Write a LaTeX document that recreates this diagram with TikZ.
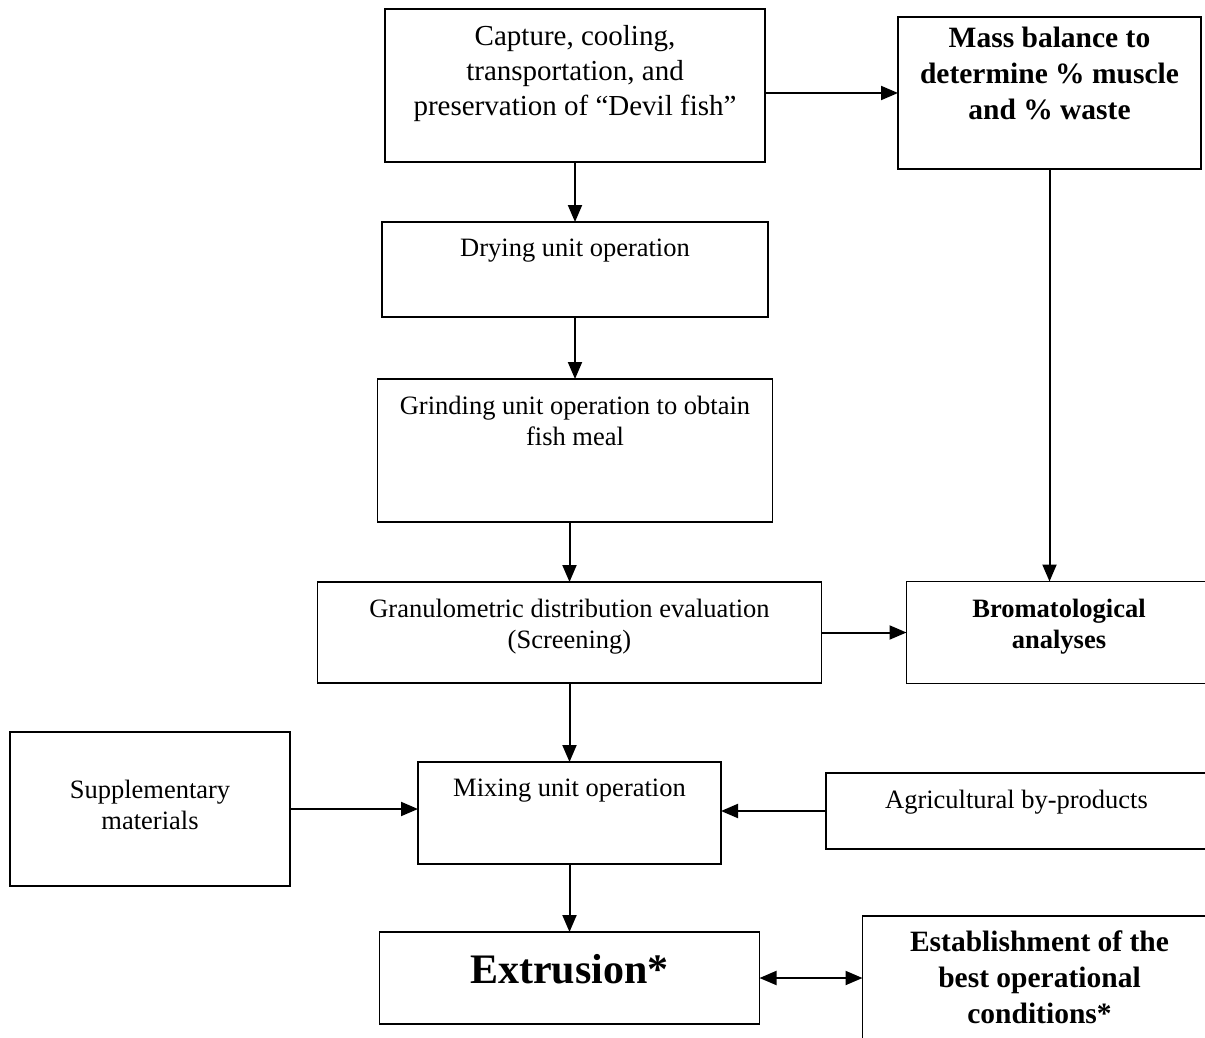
\documentclass[tikz,border=0pt]{standalone}
\usepackage{fontspec}
\setmainfont{Liberation Serif}
\usetikzlibrary{positioning,arrows.meta}

\begin{document}
\begin{tikzpicture}[x=1pt, y=-1pt,
        >={Triangle[length=17pt,width=14pt]},
        box/.style={draw, line width=1.9pt, outer sep=0pt, align=center, inner xsep=4pt, inner ysep=0pt,
                    font=\fontsize{26.5}{31}\selectfont},
        bbox/.style={box, font=\bfseries\fontsize{29.5}{36}\selectfont},
        arr/.style={->, line width=2pt}]
    \useasboundingbox (0,0) rectangle (1205,1038);
    % main column
    \node[box, font=\fontsize{29}{35}\selectfont, minimum width=380pt, minimum height=153pt, text depth=31pt] (cap) at (575,85.5)
        {Capture, cooling,\\transportation, and\\preservation of “Devil fish”};
    \node[box, minimum width=386pt, minimum height=95pt, text depth=43pt, below=60pt of cap] (dry) {Drying unit operation};
    \node[box, minimum width=395pt, minimum height=143pt, text depth=59pt, below=62pt of dry] (grind)
        {Grinding unit operation to obtain\\fish meal};
    \node[box, minimum width=504pt, minimum height=101pt, text depth=18pt, below=60pt of grind, xshift=-5.5pt] (gran)
        {Granulometric distribution evaluation\\(Screening)};
    \node[box, minimum width=303pt, minimum height=102pt, text depth=50pt, below=79pt of gran] (mix) {Mixing unit operation};
    \node[bbox, font=\bfseries\fontsize{42}{50}\selectfont, minimum width=380pt, minimum height=92pt, text depth=19pt, below=68pt of mix] (ext) {Extrusion*};
    % side boxes
    \node[bbox, minimum width=303pt, minimum height=152pt, text depth=40pt, right=133pt of cap, yshift=-7.5pt] (mass)
        {Mass balance to\\determine \% muscle\\and \% waste};
    \node[bbox, font=\bfseries\fontsize{26.5}{31}\selectfont, minimum width=305pt, minimum height=102pt, text depth=17pt, right=85pt of gran] (brom)
        {Bromatological\\analyses};
    \node[box, minimum width=280pt, minimum height=154pt, text depth=9pt, left=128pt of mix, yshift=4pt] (supp) {Supplementary\\materials};
    \node[box, minimum width=381pt, minimum height=76pt, text depth=24pt, right=105pt of mix, yshift=2pt] (agri) {Agricultural by-products};
    \node[bbox, minimum width=354pt, minimum height=144pt, text depth=22pt, right=103pt of ext, yshift=-10pt] (est)
        {Establishment of the\\best operational\\conditions*};
    % connectors
    \draw[arr] (cap.east |- mass.west) -- (mass.west);
    \draw[arr] (cap) -- (dry);
    \draw[arr] (dry) -- (grind);
    \draw[arr] (gran.north |- grind.south) -- (gran.north);
    \draw[arr] (mass.south) -- (mass.south |- brom.north);
    \draw[arr] (gran) -- (brom);
    \draw[arr] (gran) -- (mix);
    \draw[arr] (supp.east) -- (supp.east -| mix.west);
    \draw[arr] (agri.west) -- (agri.west -| mix.east);
    \draw[arr] (mix) -- (ext);
    \draw[arr, <->] (ext.east) -- (ext.east -| est.west);
\end{tikzpicture}
\end{document}
